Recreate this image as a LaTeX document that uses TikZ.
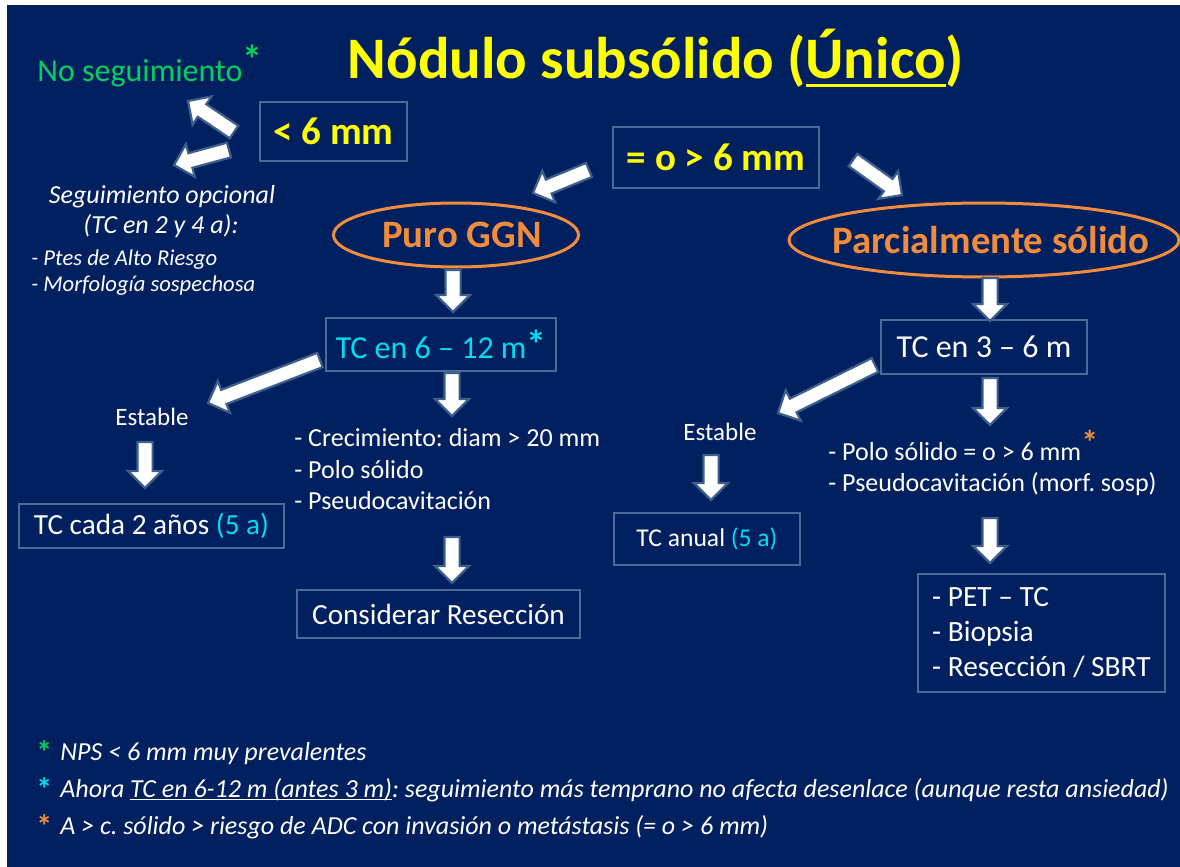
\documentclass[tikz,border=0pt]{standalone}
\usepackage{fontspec}
\setmainfont{Carlito}
\usetikzlibrary{calc,shapes.geometric}
\definecolor{bg}{HTML}{002060}
\definecolor{boxline}{HTML}{4A6A9C}
\definecolor{arredge}{HTML}{3E5F8C}
\definecolor{ttlyellow}{HTML}{FFFF00}
\definecolor{ovorange}{HTML}{F08C3C}
\definecolor{nsgreen}{HTML}{00D060}
\definecolor{tccyan}{HTML}{00DDEE}
\frenchspacing
\newcommand\ulx[3]{\setbox0\hbox{#3}\rlap{\rule[-#1]{\wd0}{#2}}\box0}
\newcommand\blockarr[2]{%
  \coordinate (tmpn) at ($(#2)!8.5pt!(#1)$);
  \filldraw[arrbody] ($(#1)!3.8pt!90:(#2)$) -- ($(tmpn)!3.8pt!90:(#2)$) -- ($(tmpn)!8.5pt!90:(#2)$) -- (#2)
     -- ($(tmpn)!8.5pt!-90:(#2)$) -- ($(tmpn)!3.8pt!-90:(#2)$) -- ($(#1)!3.8pt!-90:(#2)$) -- cycle;}
\begin{document}
\begin{tikzpicture}[x=0.5pt,y=-0.5pt,
  arrbody/.style={fill=white, draw=arredge, line width=1.1pt, line join=miter},
  box/.style={draw=boxline, line width=0.75pt, inner sep=0pt, align=center, text=white},
  oval/.style={ellipse, draw=ovorange, line width=1.5pt, inner sep=0pt, text=ovorange,
     font=\fontsize{19.4}{23}\selectfont\bfseries},
  lbl/.style={inner sep=0pt, text=white},
  big/.style={font=\fontsize{19.5}{23}\selectfont\bfseries, text=ttlyellow},
  mid/.style={font=\fontsize{16}{19}\selectfont},
  sml/.style={font=\fontsize{13}{16}\selectfont},
  itl/.style={font=\fontsize{13}{16}\selectfont\itshape},
  itls/.style={font=\fontsize{11.3}{14}\selectfont\itshape},
  foot/.style={inner sep=0pt, text=white, anchor=base west, font=\fontsize{13}{16}\selectfont\itshape}]
\useasboundingbox (0,0) rectangle (1180,867);
\fill[white] (0,0) rectangle (1180,867);
\fill[bg] (7,5) rectangle (1180,867);

% title
\node[lbl, anchor=base, text=ttlyellow, font=\fontsize{29.4}{34}\selectfont\bfseries] (title) at (656,78)
  {Nódulo subsólido (\ulx{4.6pt}{1.4pt}{Único})};

% top left
\node[lbl, anchor=base west, text=nsgreen, mid] (noseg) at (37,81)
  {No seguimiento\raisebox{3.5pt}{\fontsize{20}{20}\selectfont\bfseries *}};
\node[box, big, minimum width=73.5pt, minimum height=29.5pt] (lt6) at (333.5,131.5) {< 6 mm};
\node[lbl, anchor=base, itl] (so1) at (162,203) {Seguimiento opcional};
\node[lbl, anchor=base, itl] (so2) at (161,233) {(TC en 2 y 4 a):};
\node[lbl, anchor=base west, itls] (so3) at (31,265) {- Ptes de Alto Riesgo};
\node[lbl, anchor=base west, itls] (so4) at (31,291) {- Morfología sospechosa};

% main split
\node[box, big, minimum width=103pt, minimum height=30.5pt] (ge6) at (716,157.5) {= o > 6 mm};
\node[oval, minimum width=122.5pt, minimum height=32pt] (puro) at (456,235)
  {\makebox[0pt][c]{\hspace*{6pt}Puro GGN}};
\node[oval, minimum width=195pt, minimum height=37pt] (parc) at (984,240)
  {\makebox[0pt][c]{\hspace*{7pt}Parcialmente sólido}};

% left branch
\node[box, mid, text=tccyan, minimum width=115pt, minimum height=26.5pt] (tc612) at (441,344.5)
  {TC en 6 -- 12 m{\fontsize{20}{20}\selectfont\bfseries *}};
\node[lbl, anchor=base, font=\fontsize{12.5}{15}\selectfont] (estL) at (152,425) {Estable};
\node[box, font=\fontsize{14.6}{17}\selectfont, minimum width=132.5pt, minimum height=22pt] (cada) at (151.5,526)
  {TC cada 2 años \textcolor{tccyan}{(5 a)}};
\node[lbl, anchor=base west, sml] (crec1) at (294,446) {- Crecimiento: diam > 20 mm};
\node[lbl, anchor=base west, sml] (crec2) at (294,478) {- Polo sólido};
\node[lbl, anchor=base west, sml] (crec3) at (294,509) {- Pseudocavitación};
\node[box, font=\fontsize{14.6}{17}\selectfont, minimum width=141.5pt, minimum height=24pt] (cons) at (438.5,614)
  {Considerar Resección};

% right branch
\node[box, mid, minimum width=103pt, minimum height=27pt] (tc36) at (984,347) {TC en 3 -- 6 m};
\node[lbl, anchor=base, font=\fontsize{12.5}{15}\selectfont] (estR) at (720,440) {Estable};
\node[box, font=\fontsize{12.8}{15}\selectfont, minimum width=93pt, minimum height=26pt] (anual) at (707,539)
  {TC anual \textcolor{tccyan}{(5 a)}};
\node[lbl, anchor=base west, sml] (polo1) at (828,460)
  {- Polo sólido = o > 6 mm\raisebox{3pt}{\textcolor{ovorange}{\fontsize{17}{17}\selectfont\bfseries *}}};
\node[lbl, anchor=base west, sml] (polo2) at (828,491) {- Pseudocavitación (morf. sosp)};
\node[box, align=left, font=\fontsize{14.7}{17.5}\selectfont, minimum width=123.5pt, minimum height=59pt]
  (pet) at (1041.5,633)
  {- PET -- TC\\- Biopsia\\- Resección / SBRT};

% footnotes
\node[foot] (f1) at (36,760) {\raisebox{-1.5pt}{\textcolor{nsgreen}{\upshape\bfseries\fontsize{16}{16}\selectfont *}}\hspace{4pt}NPS < 6 mm muy prevalentes};
\node[foot] (f2) at (36,797) {\raisebox{-1.5pt}{\textcolor{tccyan}{\upshape\bfseries\fontsize{16}{16}\selectfont *}}\hspace{4pt}Ahora \ulx{1.6pt}{0.6pt}{TC en 6-12 m (antes 3 m)}: seguimiento más temprano no afecta desenlace (aunque resta ansiedad)};
\node[foot] (f3) at (36,834) {\raisebox{-1.5pt}{\textcolor{ovorange}{\upshape\bfseries\fontsize{16}{16}\selectfont *}}\hspace{4pt}A > c. sólido > riesgo de ADC con invasión o metástasis (= o > 6 mm)};

% arrow end points
\coordinate (a1s) at (234,132); \coordinate (a1e) at (188,101);
\coordinate (a2s) at (229,150); \coordinate (a2e) at (174,165);
\coordinate (a3s) at (589,170); \coordinate (a3e) at (533,193);
\coordinate (a4s) at (853,160); \coordinate (a4e) at (902,195);
\coordinate (a5s) at (453,270); \coordinate (a5e) at (453,312);
\coordinate (a6s) at (990,278); \coordinate (a6e) at (990,321);
\coordinate (a7s) at (320,360); \coordinate (a7e) at (208,403);
\coordinate (a8s) at (452,373); \coordinate (a8e) at (452,416);
\coordinate (a9s) at (145,442); \coordinate (a9e) at (145,488);
\coordinate (a10s) at (452,537); \coordinate (a10e) at (452,583);
\coordinate (a11s) at (875,365); \coordinate (a11e) at (778,413);
\coordinate (a12s) at (990,378); \coordinate (a12e) at (990,425);
\coordinate (a13s) at (711,455); \coordinate (a13e) at (711,500);
\coordinate (a14s) at (990,518); \coordinate (a14e) at (990,563);
\foreach \i in {1,...,14} {\blockarr{a\i s}{a\i e}}
\end{tikzpicture}
\end{document}
